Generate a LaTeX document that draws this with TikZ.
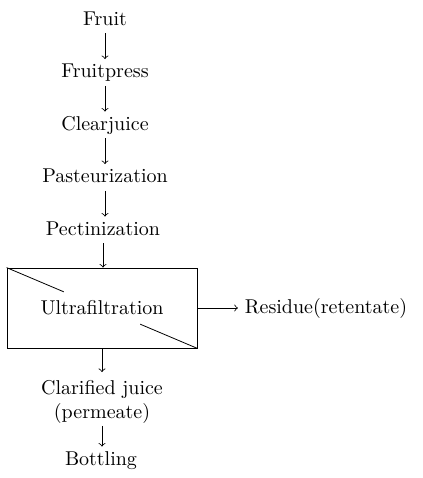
\documentclass[tikz,border=0pt]{standalone}
\usetikzlibrary{calc}
\tikzset{stage/.style={text height=7pt,text depth=2pt,inner ysep=2pt},
  flow/.style={->}}
\begin{document}
\begin{tikzpicture}[x=0.5pt,y=-0.5pt]
\useasboundingbox (0,0) rectangle (423,478);
\node[stage] (fruit) at (105,20) {Fruit};
\node[stage] (press) at (105,72.5) {Fruitpress};
\node[stage] (clear) at (105,125) {Clearjuice};
\node[stage] (past) at (105,177.5) {Pasteurization};
\node[stage] (pect) at (103,230) {Pectinization};
\node[draw,minimum width=95pt,minimum height=40pt] (uf) at (102,308) {Ultrafiltration};
\node (res) at (326,308) {Residue(retentate)};
\node[align=center,inner ysep=1pt] (clar) at (102,402) {Clarified juice\\(permeate)};
\node[stage] (bott) at (101,460) {Bottling};

\draw (uf.north west) -- ($(uf.north west)!0.3!(uf.south east)$);
\draw (uf.south east) -- ($(uf.south east)!0.3!(uf.north west)$);

\draw[flow] (fruit) -- (press);
\draw[flow] (press) -- (clear);
\draw[flow] (clear) -- (past);
\draw[flow] (past.south) -- (past.south |- pect.north);
\draw[flow] (pect.south) -- (pect.south |- uf.north);
\draw[flow] (uf) -- (res);
\draw[flow,shorten >=3pt] (uf) -- (clar);
\draw[flow] (clar.south) -- (clar.south |- bott.north);
\end{tikzpicture}
\end{document}
